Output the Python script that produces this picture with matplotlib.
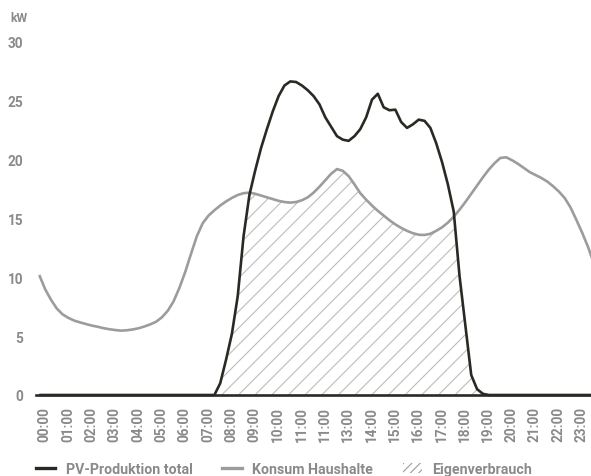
import numpy as np
import matplotlib
matplotlib.use("Agg")
import matplotlib.pyplot as plt
from matplotlib.lines import Line2D
from matplotlib.patches import Patch

# quarter-hour index (0..95) -> hours
steps = np.arange(96)

pv_total = [
    0, 0, 0, 0, 0, 0, 0, 0, 0, 0, 0, 0, 0, 0, 0, 0,
    0, 0, 0, 0, 0, 0, 0, 0, 0, 0, 0, 0, 0, 0,
    0, 1.0, 3.0, 5.2, 8.4, 13.5, 17.0, 19.1, 21.0, 22.6,
    24.1, 25.4, 26.3, 26.65, 26.6, 26.3, 25.9, 25.4, 24.7, 23.6,
    22.8, 22.0, 21.7, 21.6, 22.0, 22.6, 23.6, 25.1, 25.6, 24.45,
    24.2, 24.25, 23.2, 22.7, 23.0, 23.4, 23.3, 22.7, 21.4, 19.8,
    17.9, 15.6, 10.1, 5.9, 1.7, 0.5, 0.1, 0,
    0, 0, 0, 0, 0, 0, 0, 0, 0, 0, 0, 0, 0, 0, 0, 0, 0, 0,
]

konsum = [
    10.2, 9.0, 8.1, 7.35, 6.85, 6.55, 6.32, 6.17, 6.03, 5.9,
    5.8, 5.68, 5.59, 5.52, 5.47, 5.5, 5.57, 5.67, 5.82, 6.0,
    6.22, 6.6, 7.15, 7.95, 9.1, 10.45, 12.0, 13.5, 14.6, 15.25,
    15.7, 16.1, 16.45, 16.75, 17.0, 17.15, 17.2, 17.1, 16.95, 16.8,
    16.65, 16.5, 16.4, 16.35, 16.4, 16.55, 16.8, 17.2, 17.7, 18.25,
    18.8, 19.2, 19.05, 18.6, 17.9, 17.15, 16.6, 16.1, 15.65, 15.25,
    14.85, 14.5, 14.2, 13.95, 13.75, 13.62, 13.6, 13.7, 13.95, 14.25,
    14.65, 15.15, 15.75, 16.4, 17.1, 17.8, 18.5, 19.15, 19.7, 20.15,
    20.2, 19.95, 19.65, 19.3, 18.95, 18.7, 18.45, 18.15, 17.75, 17.3,
    16.75, 15.95, 14.9, 13.8, 12.6, 11.2,
]

hour_labels = ["00:00", "01:00", "02:00", "03:00", "04:00", "05:00", "06:00",
               "07:00", "08:00", "09:00", "10:00", "11:00", "11:00", "13:00",
               "14:00", "15:00", "16:00", "17:00", "18:00", "19:00", "20:00",
               "21:00", "22:00", "23:00"]
y_ticks = [0, 5, 10, 15, 20, 25, 30]

series_names = ["PV-Produktion total", "Konsum Haushalte", "Eigenverbrauch"]

plt.rcParams['font.family'] = ['Roboto', 'DejaVu Sans']
plt.rcParams['hatch.linewidth'] = 0.8

t = steps * 0.25
pv = np.array(pv_total)
ks = np.array(konsum)
eigen = np.minimum(pv, ks)

W, H = 591, 477
fig = plt.figure(figsize=(W / 100, H / 100), dpi=100)
ax = fig.add_axes([36 / W, (H - 396) / H, (591 - 36) / W, (396 - 43) / H])

black = '#2a2924'
gray = '#9c9c9c'
txt = '#8a8a8a'
FS = 9.8

ax.fill_between(t, 0, eigen, facecolor='none', edgecolor='#bdbdbd',
                hatch='//', linewidth=0)
ax.plot(t, ks, color=gray, lw=1.9, solid_capstyle='butt', zorder=3)
ax.plot(t, pv, color=black, lw=1.9, solid_capstyle='butt', zorder=4,
        clip_on=False)

ax.set_xlim(-0.14, 23.63)
ax.set_ylim(0, 30)
for s in ['top', 'right', 'left']:
    ax.spines[s].set_visible(False)
ax.spines['bottom'].set_color(black)
ax.spines['bottom'].set_linewidth(1.9)

ax.set_yticks(y_ticks)
ax.set_yticklabels([str(v) for v in y_ticks])
ax.tick_params(axis='y', length=0, pad=9, labelsize=FS, labelcolor=txt)
for lab in ax.get_yticklabels():
    lab.set_fontweight('bold')

ax.set_xticks(np.arange(24) + 0.23)
ax.set_xticklabels(hour_labels, rotation=90, va='top', ha='center')
ax.tick_params(axis='x', length=0, pad=8, labelsize=FS, labelcolor=txt)
for lab in ax.get_xticklabels():
    lab.set_fontweight('bold')

fig.text(10 / W, 1 - 18 / H, "kW", fontsize=8.8, color=txt, fontweight='bold',
         va='center', ha='left')

handles = [
    Line2D([0], [0], color=black, lw=2.4),
    Line2D([0], [0], color=gray, lw=2.4),
    Patch(facecolor='none', edgecolor='#9c9c9c', hatch='////', linewidth=0),
]
leg = fig.legend(handles, series_names, loc='center left',
                 bbox_to_anchor=(36 / W, 1 - 470 / H), ncol=3, frameon=False,
                 fontsize=10.2, handlelength=1.35, handletextpad=0.75,
                 columnspacing=2.1, borderaxespad=0, borderpad=0)
for tx in leg.get_texts():
    tx.set_color(txt)
    tx.set_fontweight('bold')

fig.savefig("out.png", dpi=100)
